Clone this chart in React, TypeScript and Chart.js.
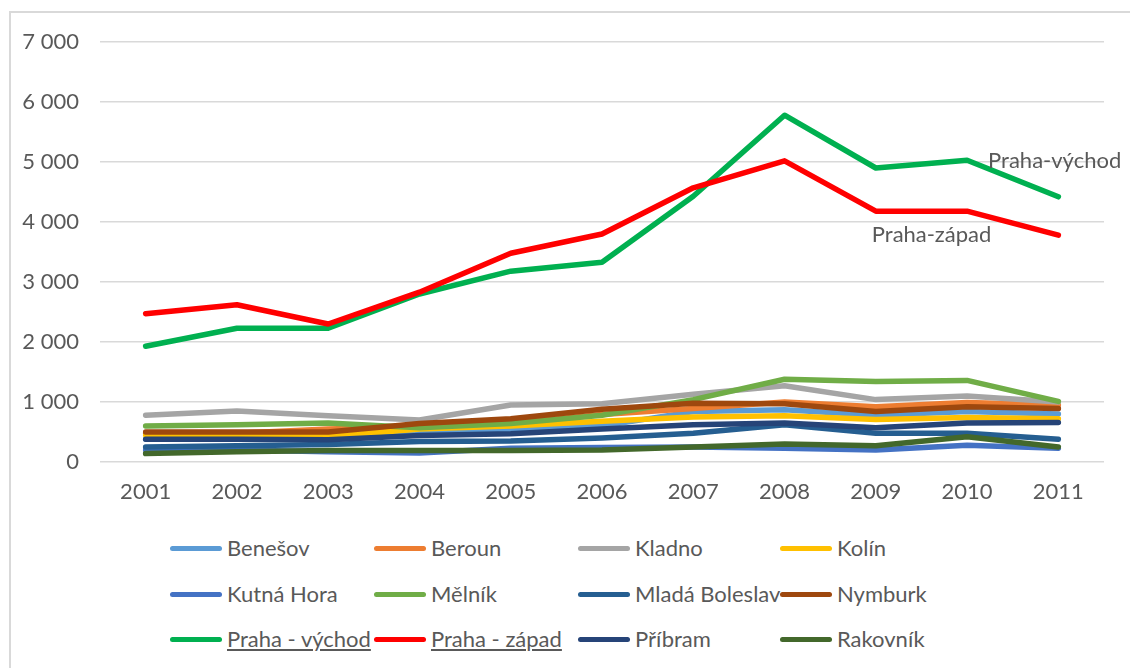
import React, { useEffect, useRef } from 'react';
import { Chart, registerables } from 'chart.js';

Chart.register(...registerables);

const years = ['2001', '2002', '2003', '2004', '2005', '2006', '2007', '2008', '2009', '2010', '2011'];

const benesov = [380, 380, 400, 500, 540, 600, 840, 870, 780, 840, 800];
const beroun = [480, 480, 550, 590, 640, 790, 890, 1000, 920, 990, 950];
const kladno = [780, 850, 770, 700, 950, 970, 1130, 1270, 1040, 1100, 1000];
const kolin = [450, 430, 420, 550, 600, 680, 750, 770, 710, 740, 720];
const kutnaHora = [200, 200, 170, 150, 230, 240, 250, 230, 200, 280, 230];
const melnik = [600, 620, 650, 570, 640, 780, 1040, 1380, 1340, 1360, 1010];
const mladaBoleslav = [250, 270, 290, 340, 350, 400, 480, 620, 480, 480, 380];
const nymburk = [500, 500, 500, 640, 720, 880, 980, 970, 840, 920, 890];
const prahaVychod = [1930, 2230, 2230, 2800, 3180, 3330, 4430, 5780, 4900, 5030, 4420];
const prahaZapad = [2470, 2620, 2300, 2830, 3480, 3800, 4570, 5020, 4180, 4180, 3780];
const pribram = [380, 380, 370, 440, 470, 550, 620, 650, 570, 650, 660];
const rakovnik = [140, 170, 190, 190, 190, 200, 250, 300, 270, 420, 250];

const seriesNames = [
  'Benešov', 'Beroun', 'Kladno', 'Kolín',
  'Kutná Hora', 'Mělník', 'Mladá Boleslav', 'Nymburk',
  'Praha - východ', 'Praha - západ', 'Příbram', 'Rakovník',
];
const seriesValues = [
  benesov, beroun, kladno, kolin,
  kutnaHora, melnik, mladaBoleslav, nymburk,
  prahaVychod, prahaZapad, pribram, rakovnik,
];
const seriesColors = [
  '#5B9BD5', '#ED7D31', '#A5A5A5', '#FFC000',
  '#4472C4', '#70AD47', '#255E91', '#9E480E',
  '#00B050', '#FF0000', '#264478', '#43682B',
];
const underlinedNames = ['Praha - východ', 'Praha - západ'];

const yMax = 7000;
const yStep = 1000;

// In-plot text labels
const noteTexts = ['Praha-východ', 'Praha-západ'];
const noteYears = ['2010', '2009'];
const noteValues = [5020, 3790];
const noteDx = [21, -4];

const FONT = "Lato, 'Open Sans', sans-serif";
const FONT_SIZE = 22;
const TEXT = '#595959';

const legendColX = [170, 374, 578, 780];
const legendRowY = [548, 594, 639];

function formatThousands(v: number): string {
  const s = String(Math.round(v));
  return s.replace(/\B(?=(\d{3})+(?!\d))/g, ' ');
}

const notesPlugin = {
  id: 'notes',
  afterDatasetsDraw(chart: any) {
    const { ctx, scales } = chart;
    ctx.save();
    ctx.font = `${FONT_SIZE}px ${FONT}`;
    ctx.fillStyle = TEXT;
    ctx.textAlign = 'left';
    ctx.textBaseline = 'middle';
    noteTexts.forEach((t, i) => {
      const x = scales.x.getPixelForValue(years.indexOf(noteYears[i])) + noteDx[i];
      const y = scales.y.getPixelForValue(noteValues[i]);
      ctx.fillText(t, x, y);
    });
    ctx.restore();
  },
};

export default function App() {
  const ref = useRef<HTMLCanvasElement | null>(null);

  useEffect(() => {
    if (!ref.current) return;
    const n = seriesNames.length;
    const chart = new Chart(ref.current, {
      type: 'line',
      data: {
        labels: years,
        datasets: seriesNames.map((name, i) => ({
          label: name,
          data: seriesValues[i],
          borderColor: seriesColors[i],
          backgroundColor: seriesColors[i],
          borderWidth: 5.5,
          pointRadius: 0,
          tension: 0,
          borderCapStyle: 'round' as const,
          borderJoinStyle: 'round' as const,
          order: n - i,
        })),
      },
      options: {
        animation: false,
        responsive: false,
        layout: { padding: { left: 0, right: 26, top: 42, bottom: 0 } },
        plugins: {
          legend: { display: false },
          tooltip: { enabled: false },
        },
        scales: {
          x: {
            offset: true,
            grid: { display: false, drawTicks: false },
            border: { display: false },
            ticks: { color: TEXT, font: { family: FONT, size: FONT_SIZE }, padding: 17, maxRotation: 0 },
            afterFit: (s: any) => { s.height = 58; },
          },
          y: {
            min: 0,
            max: yMax,
            grid: { color: '#D9D9D9', lineWidth: 1.5, drawTicks: false },
            border: { display: false },
            ticks: {
              stepSize: yStep,
              color: TEXT,
              font: { family: FONT, size: FONT_SIZE },
              padding: 21,
              callback: (v: any) => formatThousands(Number(v)),
            },
            afterFit: (s: any) => { s.width = 100; },
          },
        },
      },
      plugins: [notesPlugin],
    });
    return () => chart.destroy();
  }, []);

  return (
    <div>
      <div
        style={{
          position: 'absolute', left: 9, top: 11, width: 1121, height: 657,
          borderLeft: '2px solid #D9D9D9', borderTop: '2px solid #D9D9D9', boxSizing: 'border-box',
        }}
      />
      <div style={{ position: 'absolute', left: 0, top: 0, width: 1130, height: 520 }}>
        <canvas ref={ref} width={1130} height={520} style={{ display: 'block' }} />
      </div>
      {seriesNames.map((name, i) => (
        <div
          key={name}
          style={{
            position: 'absolute',
            left: legendColX[i % 4],
            top: legendRowY[Math.floor(i / 4)] - 15,
            height: 30,
            display: 'flex',
            alignItems: 'center',
            fontFamily: FONT,
            fontSize: FONT_SIZE,
            color: TEXT,
            whiteSpace: 'nowrap',
          }}
        >
          <span
            style={{
              display: 'inline-block', width: 52, height: 5, borderRadius: 3,
              background: seriesColors[i], marginRight: 5,
            }}
          />
          <span style={{ textDecoration: underlinedNames.includes(name) ? 'underline' : 'none', lineHeight: '30px' }}>
            {name}
          </span>
        </div>
      ))}
    </div>
  );
}
